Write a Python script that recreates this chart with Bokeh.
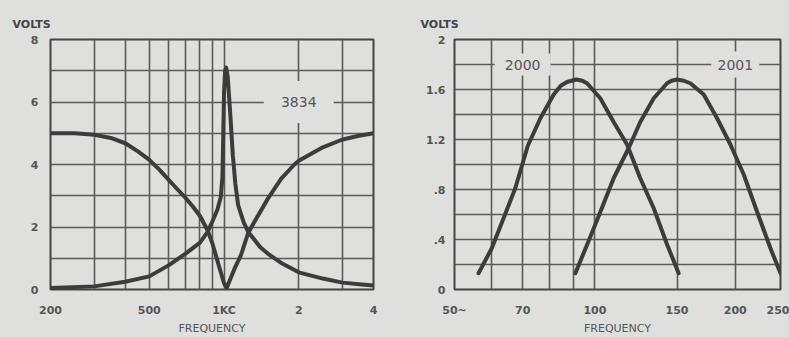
from bokeh.plotting import figure
from bokeh.layouts import row
from bokeh.models import FixedTicker
from bokeh.embed import file_html
from bokeh.resources import INLINE
from bokeh.core.properties import value

# ---------------- data: left chart (3834) ----------------
left_grid_x = [200, 300, 400, 500, 600, 700, 800, 900, 1000, 2000, 3000, 4000]
left_tick_x = [200, 500, 1000, 2000, 4000]
left_tick_x_labels = ["200", "500", "1KC", "2", "4"]
left_grid_y = [0, 1, 2, 3, 4, 5, 6, 7, 8]
left_tick_y = [0, 2, 4, 6, 8]
left_tick_y_labels = ["0", "2", "4", "6", "8"]

left_freq_a = [200, 250, 300, 350, 400, 450, 500, 550, 600, 650, 700, 750, 800, 860, 900, 950, 1000, 1025,
               1100, 1170, 1250, 1300, 1500, 1700, 1920, 2000, 2500, 3000, 3500, 4000]
left_volts_a = [5.0, 5.0, 4.95, 4.85, 4.68, 4.42, 4.15, 3.83, 3.5, 3.2, 2.93, 2.65, 2.35, 1.88, 1.45, 0.8, 0.2, 0.05,
                0.65, 1.1, 1.8, 2.05, 2.9, 3.55, 4.0, 4.12, 4.55, 4.8, 4.92, 5.0]

left_freq_b = [200, 300, 400, 500, 600, 700, 800, 860, 900, 940, 970, 985, 993, 1000, 1010, 1020,
               1035, 1060, 1085, 1110, 1140, 1200, 1250, 1400, 1500, 1700, 2000, 2500, 3000, 3500, 4000]
left_volts_b = [0.05, 0.1, 0.25, 0.42, 0.78, 1.15, 1.5, 1.85, 2.2, 2.55, 2.95, 3.6, 5.0, 6.3, 7.0, 7.1,
                6.8, 5.6, 4.3, 3.4, 2.7, 2.15, 1.85, 1.35, 1.15, 0.85, 0.55, 0.35, 0.22, 0.17, 0.13]

left_label_text = ["3834"]
left_label_x = [2000]
left_label_y = [6]

# ---------------- data: right chart (2000 / 2001) ----------------
right_grid_x = [50, 60, 70, 80, 90, 100, 150, 200, 250]
right_tick_x = [50, 70, 100, 150, 200, 250]
right_tick_x_labels = ["50~", "70", "100", "150", "200", "250"]
right_grid_y = [0, 0.2, 0.4, 0.6, 0.8, 1.0, 1.2, 1.4, 1.6, 1.8, 2.0]
right_tick_y = [0, 0.4, 0.8, 1.2, 1.6, 2]
right_tick_y_labels = ["0", ".4", ".8", "1.2", "1.6", "2"]

f2000 = [56.3, 60.1, 63.7, 67.5, 71.8, 76.4, 81.6, 84.5, 87.1, 91.2, 94.0, 96.2, 102.7, 109.7, 117.2, 125.1, 133.7, 142.8, 151.2]
v2000 = [0.13, 0.33, 0.57, 0.81, 1.15, 1.37, 1.56, 1.63, 1.66, 1.68, 1.67, 1.65, 1.53, 1.34, 1.16, 0.89, 0.65, 0.36, 0.13]
f2001 = [90.8, 97.0, 102.7, 109.7, 118.1, 125.1, 133.7, 142.8, 146.0, 150.0, 155.0, 160.2, 171.1, 182.8, 195.2, 208.5, 222.8, 237.9, 250.0]
v2001 = [0.13, 0.39, 0.62, 0.89, 1.13, 1.34, 1.53, 1.65, 1.67, 1.68, 1.67, 1.65, 1.56, 1.37, 1.16, 0.92, 0.62, 0.33, 0.13]

right_label_text = ["2000", "2001"]
right_label_x = [70, 200]
right_label_y = [1.8, 1.8]

# ---------------- styling ----------------
BG = "#dfdfdd"
GRID = "#5a5a5a"
CURVE = "#3c3c3c"
TEXT = "#555555"
FONT = "DejaVu Sans"


def make_fig(width, xr, yr, left_border, right_border, top_border, grid_x, grid_y, tick_x, tick_x_labels,
             tick_y, tick_y_labels, y_standoff, title_offset):
    p = figure(width=width, height=337, x_axis_type="log", x_range=xr, y_range=yr,
               min_border_left=left_border, min_border_right=right_border,
               min_border_top=top_border, min_border_bottom=47,
               output_backend="svg", toolbar_location=None)
    p.background_fill_color = BG
    p.border_fill_color = BG
    p.outline_line_color = "#444444"
    p.outline_line_width = 2

    p.title.text = "VOLTS"
    p.title.align = "left"
    p.title.offset = title_offset
    p.title.text_font = FONT
    p.title.text_font_size = "11px"
    p.title.text_font_style = "bold"
    p.title.text_color = "#444444"
    p.title.standoff = 18

    p.xgrid.ticker = FixedTicker(ticks=grid_x)
    p.ygrid.ticker = FixedTicker(ticks=grid_y)
    for g in (p.xgrid, p.ygrid):
        g.grid_line_color = GRID
        g.grid_line_width = 1.6
        g.minor_grid_line_color = None

    p.xaxis.ticker = FixedTicker(ticks=tick_x)
    p.xaxis.major_label_overrides = {t: s for t, s in zip(tick_x, tick_x_labels)}
    p.yaxis.ticker = FixedTicker(ticks=tick_y)
    p.yaxis.major_label_overrides = {t: s for t, s in zip(tick_y, tick_y_labels)}

    for ax in (p.xaxis, p.yaxis):
        ax.axis_line_color = None
        ax.major_tick_line_color = None
        ax.minor_tick_line_color = None
        ax.major_tick_out = 0
        ax.major_tick_in = 0
        ax.minor_tick_out = 0
        ax.minor_tick_in = 0
        ax.major_label_text_color = TEXT
        ax.major_label_text_font = FONT
        ax.major_label_text_font_size = "11px"
        ax.major_label_text_font_style = "bold"
    p.xaxis.major_label_standoff = 14
    p.yaxis.major_label_standoff = y_standoff
    p.xaxis.axis_label = "FREQUENCY"
    p.xaxis.axis_label_text_font = FONT
    p.xaxis.axis_label_text_font_size = "11px"
    p.xaxis.axis_label_text_font_style = "normal"
    p.xaxis.axis_label_text_color = TEXT
    p.xaxis.axis_label_standoff = 2
    return p


# ---------------- left chart ----------------
p1 = make_fig(400, (200, 4000), (0, 8), 50, 27, 39, left_grid_x, left_grid_y,
              left_tick_x, left_tick_x_labels, left_tick_y, left_tick_y_labels, 12, -38)
p1.rect(x=left_label_x, y=left_label_y, width=70, height=42, width_units="screen",
        height_units="screen", fill_color=BG, line_color=None)
p1.line(left_freq_a, left_volts_a, line_color=CURVE, line_width=4, line_join="round", line_cap="round")
p1.line(left_freq_b, left_volts_b, line_color=CURVE, line_width=4, line_join="round", line_cap="round")
p1.text(x=left_label_x, y=left_label_y, text=left_label_text, text_align="center",
        text_baseline="middle", text_color=TEXT, text_font=value(FONT), text_font_size="14px")

# ---------------- right chart ----------------
p2 = make_fig(389, (50, 250), (0, 2), 54, 9, 38, right_grid_x, right_grid_y,
              right_tick_x, right_tick_x_labels, right_tick_y, right_tick_y_labels, 9, -34)
p2.rect(x=right_label_x, y=right_label_y, width=[56, 48], height=[22, 26], width_units="screen",
        height_units="screen", fill_color=BG, line_color=None)
p2.line(f2000, v2000, line_color=CURVE, line_width=4, line_join="round", line_cap="round")
p2.line(f2001, v2001, line_color=CURVE, line_width=4, line_join="round", line_cap="round")
p2.text(x=right_label_x, y=right_label_y, text=right_label_text, text_align="center",
        text_baseline="middle", text_color=TEXT, text_font=value(FONT), text_font_size="14px")

layout = row(p1, p2, spacing=0)
layout.styles = {"background-color": BG}
open("out.html", "w").write(file_html(layout, INLINE))
